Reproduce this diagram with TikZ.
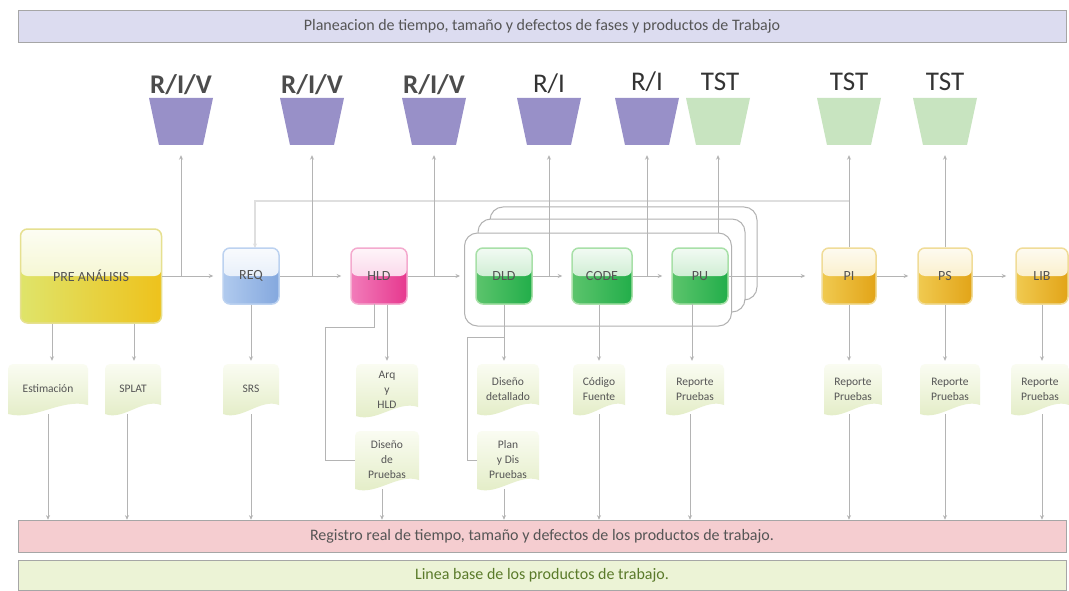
\documentclass[tikz,border=0pt]{standalone}
\usepackage{fontspec}
\setmainfont{Carlito}
\usetikzlibrary{arrows.meta}
\definecolor{barblue}{HTML}{DCDCF0}
\definecolor{barpink}{HTML}{F5CDD0}
\definecolor{bargreen}{HTML}{ECF3D6}
\definecolor{trapP}{HTML}{9890C8}
\definecolor{trapG}{HTML}{C8E4C0}
\definecolor{docT}{HTML}{FAFCF2}
\definecolor{docB}{HTML}{E2ECC4}
\definecolor{lineG}{HTML}{B4B4B4}
\definecolor{txtG}{HTML}{555555}
\definecolor{yA}{HTML}{DFE46A}\definecolor{yB}{HTML}{EEC21C}\definecolor{yC}{HTML}{E6E090}
\definecolor{bA}{HTML}{B0CAEE}\definecolor{bB}{HTML}{84A8DE}\definecolor{bC}{HTML}{BCD2F0}
\definecolor{mA}{HTML}{F27CBA}\definecolor{mB}{HTML}{E6388E}\definecolor{mC}{HTML}{F4AACE}
\definecolor{gA}{HTML}{5CC46C}\definecolor{gB}{HTML}{22AE4A}\definecolor{gC}{HTML}{A8E0A8}
\definecolor{oA}{HTML}{F0CA50}\definecolor{oB}{HTML}{E2A418}\definecolor{oC}{HTML}{F0DC98}
\definecolor{baseTxt}{HTML}{5A7A2A}
\newcommand\docshape[6]{%
  \shade[top color=docT,bottom color=docB]
    ({#2-#4/2},{#3+#5/2}) [rounded corners=5pt] -- ({#2-#4/2},{#3-#5/2}) -- ({#2+#4/2},{#3-#5/2}) [sharp corners] -- ({#2+#4/2},{#3+#5/2-9})
    .. controls ({#2+#4/6},{#3+#5/2-16}) and ({#2-#4/6},{#3+#5/2+7}) .. ({#2-#4/2},{#3+#5/2}) -- cycle;
  \node[doctext,minimum width=#4pt,minimum height=#5pt] (#1) at (#2,#3) {#6};}
\newcommand\trapshape[3]{%
  \fill[#3] ({#2-32},98) -- ({#2+32},98) -- ({#2+22},145) -- ({#2-22},145) -- cycle;
  \node[inner sep=0pt,minimum width=44pt,minimum height=47pt] (#1) at (#2,121.5) {};}
\begin{document}
\begin{tikzpicture}[x=1pt,y=-1pt,
  conn/.style={draw=lineG,line width=0.8pt},
  arr/.style={conn,-{Stealth[length=4.5pt,width=4pt]}},
  bar/.style={draw=gray!70,line width=0.6pt,minimum width=1048pt,inner sep=0pt,font=\fontsize{16}{16}\selectfont,text=txtG},
  gbox/.style n args={3}{rounded corners=7pt,draw=#3,line width=1.5pt,left color=#1,right color=#2,
    path picture={\shade[top color=#1!8!white,bottom color=#1!50!white] (path picture bounding box.north west) rectangle (path picture bounding box.east);},
    minimum width=56pt,minimum height=56pt,inner sep=0pt,text=txtG,font=\fontsize{14}{14}\selectfont},
  lblb/.style={font=\fontsize{27}{27}\selectfont\bfseries,text=gray!60!black,inner sep=0pt},
  lblr/.style={font=\fontsize{27}{27}\selectfont,text=gray!40!black,inner sep=0pt},
  doctext/.style={inner sep=0pt,align=center,text=txtG,font=\fontsize{11.5}{15}\selectfont},
  framebox/.style={draw=gray!60,line width=1pt,rounded corners=13pt,fill=white,minimum width=267pt,minimum height=93pt,inner sep=0pt}]
\useasboundingbox (0,0) rectangle (1069,591);
\fill[white] (0,0) rectangle (1069,591);

% bars
\node[bar,fill=barblue,minimum height=32pt] (topbar) at (542,26) {Planeacion de tiempo, tamaño y defectos de fases y productos de Trabajo};
\node[bar,fill=barpink,minimum height=32pt] (regbar) at (542,536) {Registro real de tiempo, tamaño y defectos de los productos de trabajo.};
\node[bar,fill=bargreen,minimum height=30pt,text=baseTxt] (basebar) at (542,575) {Linea base de los productos de trabajo.};

% trapezoids
\trapshape{t1}{181}{trapP}
\trapshape{t2}{312}{trapP}
\trapshape{t3}{434}{trapP}
\trapshape{t4}{549}{trapP}
\trapshape{t5}{647}{trapP}
\trapshape{t6}{718}{trapG}
\trapshape{t7}{849}{trapG}
\trapshape{t8}{945}{trapG}
\node[lblb] (l1) at (181,85) {R/I/V};
\node[lblb] (l2) at (312,85) {R/I/V};
\node[lblb] (l3) at (434,85) {R/I/V};
\node[lblr] (l4) at (549,84) {R/I};
\node[lblr] (l5) at (647,82) {R/I};
\node[lblr] (l6) at (720,82) {TST};
\node[lblr] (l7) at (849,82) {TST};
\node[lblr] (l8) at (945,82) {TST};

% stacked frames
\node[framebox] (fr3) at (623.5,253.5) {};
\node[framebox] (fr2) at (611.5,265.5) {};
\node[framebox] (fr1) at (598,279.5) {};

% feedback line
\coordinate (fb) at (849,201);
\coordinate (fbr) at (255,248);
\draw[arr,draw=gray!25,line width=2pt] (fb) -| (fbr);

% main flow coordinates
\coordinate (j1) at (181,276);
\coordinate (j2) at (312,276);
\coordinate (j3) at (434,276);
\coordinate (j4) at (549,276);
\coordinate (j5) at (647,276);
\coordinate (j6) at (718,233);

% boxes
\node[gbox={yA}{yB}{yC},minimum width=141pt,minimum height=94pt] (pre) at (91,276) {PRE ANÁLISIS};
\node[gbox={bA}{bB}{bC}] (req) at (251,276) {REQ};
\node[gbox={mA}{mB}{mC}] (hld) at (379,276) {HLD};
\node[gbox={gA}{gB}{gC}] (dld) at (504,276) {DLD};
\node[gbox={gA}{gB}{gC},minimum width=60pt] (code) at (602,276) {CODE};
\node[gbox={gA}{gB}{gC}] (pu) at (700,276) {PU};
\node[gbox={oA}{oB}{oC},minimum width=54pt] (pi) at (849,276) {PI};
\node[gbox={oA}{oB}{oC},minimum width=54pt] (ps) at (945,276) {PS};
\node[gbox={oA}{oB}{oC},minimum width=52pt] (lib) at (1042,276) {LIB};

% main flow
\draw[arr,shorten >=9pt] (pre) -- (req);
\draw[arr,shorten >=9pt] (req) -- (hld);
\draw[arr,shorten >=4pt] (hld.east) -- (hld.east -| fr1.west);
\draw[arr,shorten >=9pt] (dld) -- (code);
\draw[arr,shorten >=9pt] (code) -- (pu);
\draw[arr,shorten >=16pt] (pu) -- (pi);
\draw[arr,shorten >=9pt] (pi) -- (ps);
\draw[arr,shorten >=9pt] (ps) -- (lib);

% up to trapezoids
\draw[arr,shorten >=10pt] (j1) -- (t1.south);
\draw[arr,shorten >=10pt] (j2) -- (t2.south);
\draw[arr,shorten >=10pt] (j3) -- (t3.south);
\draw[arr,shorten >=10pt] (j4) -- (t4.south);
\draw[arr,shorten >=10pt] (j5) -- (t5.south);
\draw[arr,shorten >=10pt] (j6) -- (t6.south);
\draw[arr,shorten >=10pt] (pi.north) -- (t7.south);
\draw[arr,shorten >=10pt] (ps.north) -- (t8.south);

% artifacts
\docshape{est}{48}{389}{80}{50}{Estimación}
\docshape{splat}{133}{389}{56}{50}{SPLAT}
\docshape{srs}{251}{389}{56}{50}{SRS}
\docshape{arq}{387}{390}{62}{52}{Arq\\y\\HLD}
\docshape{dp}{387}{460}{64}{58}{Diseño\\de\\Pruebas}
\docshape{dd}{508}{389}{62}{50}{Diseño\\detallado}
\docshape{pdp}{508}{460}{62}{58}{Plan\\y Dis\\Pruebas}
\docshape{cf}{599}{389}{52}{50}{Código\\Fuente}
\docshape{rp1}{695}{389}{58}{50}{Reporte\\Pruebas}
\docshape{rp2}{853}{389}{58}{50}{Reporte\\Pruebas}
\docshape{rp3}{950}{389}{60}{50}{Reporte\\Pruebas}
\docshape{rp4}{1040}{389}{58}{50}{Reporte\\Pruebas}

% down to artifacts
\coordinate (pa) at (52,324);
\coordinate (pb) at (134,324);
\coordinate (pua) at (692,304);
\draw[arr,shorten >=3pt] (pa) -- (pa |- est.north);
\draw[arr,shorten >=3pt] (pb) -- (pb |- splat.north);
\draw[arr,shorten >=3pt] (req.south) -- (srs.north -| req.south);
\draw[arr,shorten >=3pt] (hld.south -| arq.north) -- (arq.north);
\draw[arr,shorten >=3pt] (dld.south) -- (dld.south |- dd.north);
\draw[arr,shorten >=3pt] (code.south -| cf.north) -- (cf.north);
\draw[arr,shorten >=3pt] (pua) -- (pua |- rp1.north);
\draw[arr,shorten >=3pt] (pi.south) -- (pi.south |- rp2.north);
\draw[arr,shorten >=3pt] (ps.south) -- (ps.south |- rp3.north);
\draw[arr,shorten >=3pt] (lib.south) -- (lib.south |- rp4.north);

% side branches
\coordinate (hk) at (374,304);
\coordinate (hk2) at (325,327);
\draw[conn] (hk) |- (hk2) |- (dp.west);
\coordinate (dk) at (504,337);
\coordinate (dk2) at (467,337);
\draw[conn] (dk) -- (dk2) |- (pdp.west);

% down to record bar
\coordinate (c2) at (127,414);
\coordinate (c4) at (382,489);
\coordinate (c5) at (504,489);
\coordinate (c7) at (690,414);
\draw[arr] (est.south) -- (est.south |- regbar.north);
\draw[arr] (c2) -- (c2 |- regbar.north);
\draw[arr] (srs.south) -- (srs.south |- regbar.north);
\draw[arr] (c4) -- (c4 |- regbar.north);
\draw[arr] (c5) -- (c5 |- regbar.north);
\draw[arr] (cf.south) -- (cf.south |- regbar.north);
\draw[arr] (c7) -- (c7 |- regbar.north);
\draw[arr] (pi.south |- rp2.south) -- (pi.south |- regbar.north);
\draw[arr] (ps.south |- rp3.south) -- (ps.south |- regbar.north);
\draw[arr] (lib.south |- rp4.south) -- (lib.south |- regbar.north);
\end{tikzpicture}
\end{document}
